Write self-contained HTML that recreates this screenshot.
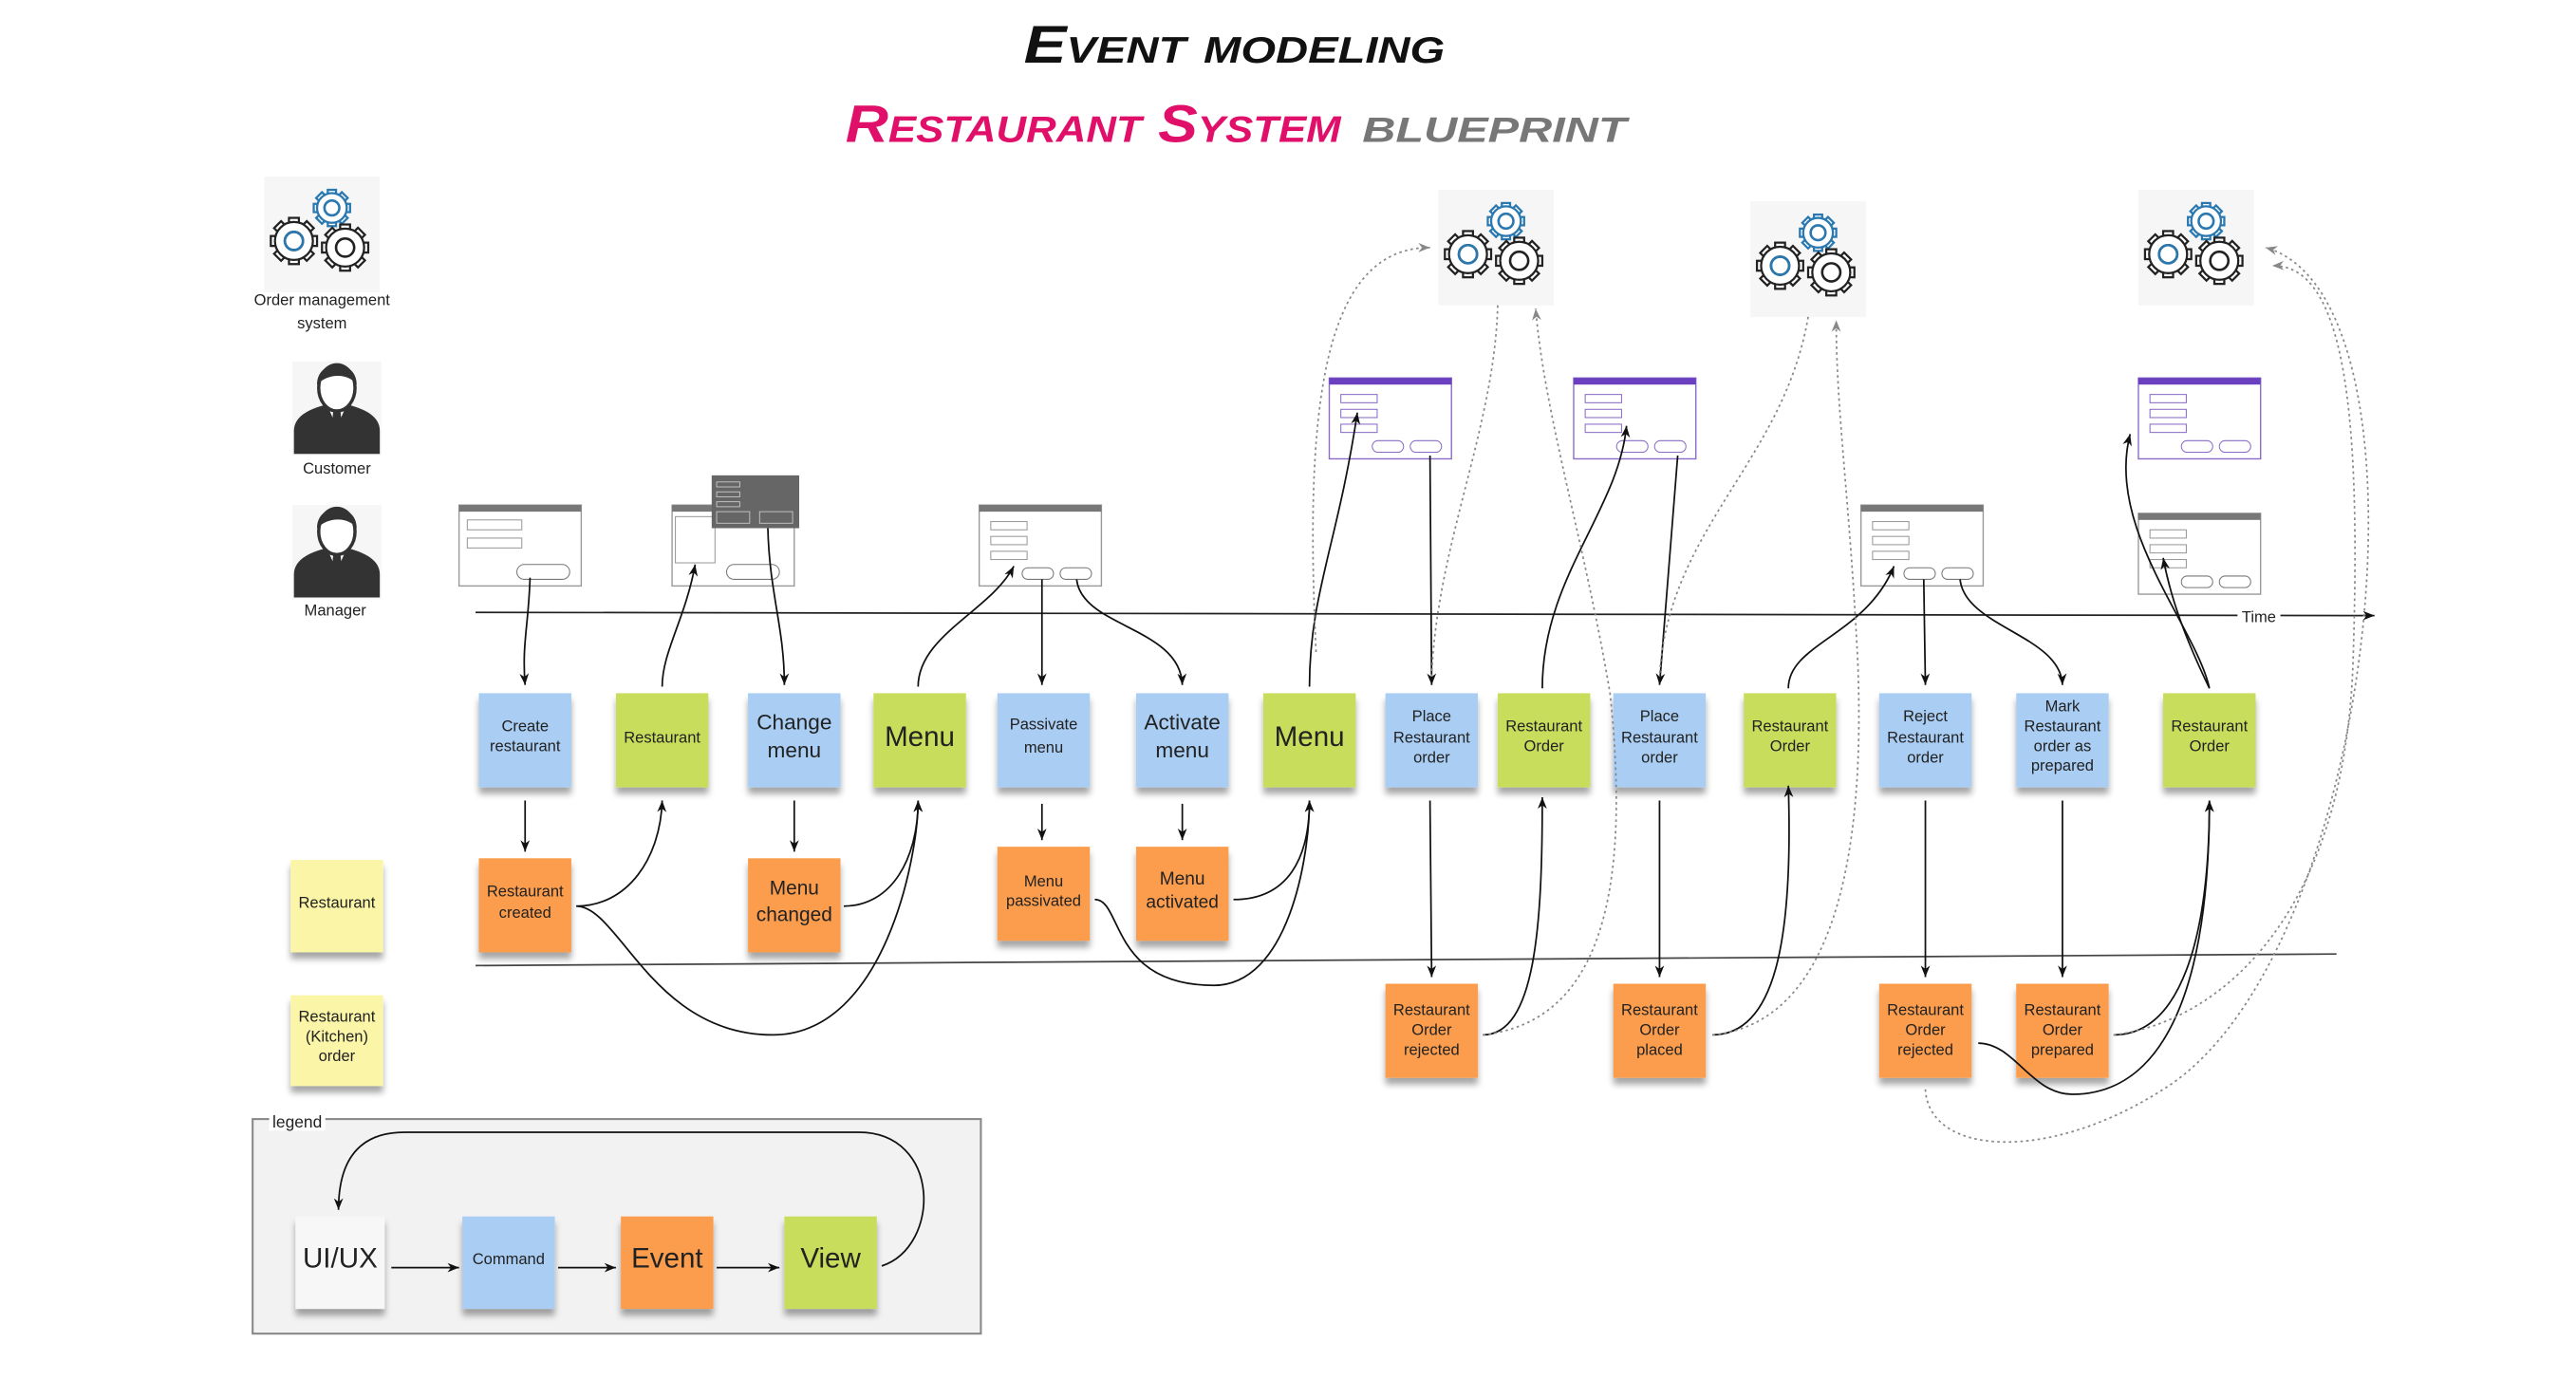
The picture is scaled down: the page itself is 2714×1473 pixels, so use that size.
<!DOCTYPE html>
<html><head><meta charset="utf-8"><style>
html,body{margin:0;padding:0;background:#fff;}
svg{display:block;font-family:"Liberation Sans",sans-serif;}
.t{font-size:9.5px;fill:#222;text-anchor:middle;}
.b{font-size:13px;fill:#222;text-anchor:middle;}
.m{font-size:17px;fill:#222;text-anchor:middle;}
.c{fill:none;stroke:#111;stroke-width:1;}
.d{fill:none;stroke:#888;stroke-width:1;stroke-dasharray:1.5 2;}
</style></head><body>
<svg width="2714" height="1473" viewBox="0 0 1560 847" preserveAspectRatio="none">
<defs>
<marker id="a" viewBox="0 0 10 10" refX="10" refY="5" markerWidth="7" markerHeight="9" orient="auto-start-reverse" markerUnits="userSpaceOnUse"><path d="M0,1 L10,5 L0,9 L3,5z" fill="#111"/></marker>
<marker id="g" viewBox="0 0 10 10" refX="10" refY="5" markerWidth="7" markerHeight="9" orient="auto" markerUnits="userSpaceOnUse"><path d="M0,1 L10,5 L0,9 L3,5z" fill="#888"/></marker>
<filter id="sh" x="-20%" y="-20%" width="140%" height="150%"><feDropShadow dx="0" dy="4" stdDeviation="2" flood-color="#000" flood-opacity="0.35"/></filter>
<g id="gear1">
<g fill="#fff" stroke="#222" stroke-width="1.3">
<rect x="-3" y="-14" width="6" height="28"/><rect x="-3" y="-14" width="6" height="28" transform="rotate(45)"/><rect x="-3" y="-14" width="6" height="28" transform="rotate(90)"/><rect x="-3" y="-14" width="6" height="28" transform="rotate(135)"/>
<circle r="11.5"/></g><circle r="5.5" fill="none" stroke="#222" stroke-width="1.5"/></g>
<g id="gear2">
<g fill="#fff" stroke="#2a78b0" stroke-width="1.3">
<rect x="-2.5" y="-11" width="5" height="22"/><rect x="-2.5" y="-11" width="5" height="22" transform="rotate(45)"/><rect x="-2.5" y="-11" width="5" height="22" transform="rotate(90)"/><rect x="-2.5" y="-11" width="5" height="22" transform="rotate(135)"/>
<circle r="9"/></g><circle r="4.5" fill="none" stroke="#2a78b0" stroke-width="1.5"/></g>
<g id="gears">
<rect x="-35" y="-33" width="70" height="70" fill="#f6f6f6"/>
<use href="#gear2" x="6" y="-14"/>
<use href="#gear1" x="-17" y="6"/>
<use href="#gear1" x="14" y="10"/>
<circle cx="-17" cy="6" r="5.5" fill="none" stroke="#2a78b0" stroke-width="1.5"/>
</g>
<g id="person">
<rect x="-27" y="-28" width="54" height="57" fill="#f6f6f6"/>
<path d="M-26,28 L-26,14 C-26,4 -14,0 -6,-2 L6,-2 C14,0 26,4 26,14 L26,28z" fill="#333"/>
<path d="M-6,-2 L0,12 L6,-2z" fill="#fff"/><path d="M-2,0 L2,0 L3,10 L0,14 L-3,10z" fill="#333"/>
<ellipse cx="0" cy="-12" rx="11" ry="14" fill="#fff" stroke="#333" stroke-width="2"/>
<path d="M-12,-14 C-12,-30 12,-30 12,-14 C8,-20 -4,-22 -12,-14z" fill="#333"/>
</g>
<g id="wf">
<rect x="0" y="0" width="74" height="49" fill="#fff" stroke="#999" stroke-width="0.8"/>
<rect x="0" y="0" width="74" height="4" fill="#777"/>
<rect x="7" y="10" width="22" height="5" fill="none" stroke="#999" stroke-width="0.6"/>
<rect x="7" y="19" width="22" height="5" fill="none" stroke="#999" stroke-width="0.6"/>
<rect x="7" y="28" width="22" height="5" fill="none" stroke="#999" stroke-width="0.6"/>
<rect x="26" y="38" width="19" height="7" rx="3.5" fill="none" stroke="#777" stroke-width="0.6"/>
<rect x="49" y="38" width="19" height="7" rx="3.5" fill="none" stroke="#777" stroke-width="0.6"/>
</g>
<g id="wfp">
<rect x="0" y="0" width="74" height="49" fill="#fff" stroke="#8a6cc8" stroke-width="0.8"/>
<rect x="0" y="0" width="74" height="4" fill="#6a3fc0"/>
<rect x="7" y="10" width="22" height="5" fill="none" stroke="#8a6cc8" stroke-width="0.6"/>
<rect x="7" y="19" width="22" height="5" fill="none" stroke="#8a6cc8" stroke-width="0.6"/>
<rect x="7" y="28" width="22" height="5" fill="none" stroke="#8a6cc8" stroke-width="0.6"/>
<rect x="26" y="38" width="19" height="7" rx="3.5" fill="none" stroke="#8a6cc8" stroke-width="0.6"/>
<rect x="49" y="38" width="19" height="7" rx="3.5" fill="none" stroke="#8a6cc8" stroke-width="0.6"/>
</g>
</defs>

<!-- titles -->
<text x="620" y="38" font-size="32" font-weight="bold" font-style="italic" fill="#111" style="font-variant:small-caps" textLength="255" lengthAdjust="spacingAndGlyphs">Event modeling</text>
<text x="512" y="86" font-size="32" font-weight="bold" font-style="italic" fill="#e0106a" style="font-variant:small-caps" textLength="300" lengthAdjust="spacingAndGlyphs">Restaurant System</text>
<text x="825" y="86" font-size="30" font-weight="bold" font-style="italic" fill="#777" style="font-variant:small-caps" textLength="160" lengthAdjust="spacingAndGlyphs">blueprint</text>

<!-- actors -->
<use href="#gears" x="195" y="140"/>
<text x="195" y="185" class="t">Order management</text>
<text x="195" y="199" class="t">system</text>
<use href="#person" x="204" y="247"/>
<text x="204" y="287" class="t">Customer</text>
<use href="#person" x="204" y="334"/>
<text x="203" y="373" class="t">Manager</text>

<use href="#gears" x="906" y="148"/>
<use href="#gears" x="1095" y="155"/>
<use href="#gears" x="1330" y="148"/>

<!-- wireframes -->
<g>
<rect x="278" y="306" width="74" height="49" fill="#fff" stroke="#999" stroke-width="0.8"/><rect x="278" y="306" width="74" height="4" fill="#777"/>
<rect x="283" y="315" width="33" height="6" fill="none" stroke="#999" stroke-width="0.6"/><rect x="283" y="326" width="33" height="6" fill="none" stroke="#999" stroke-width="0.6"/>
<rect x="313" y="342" width="32" height="9" rx="4.5" fill="none" stroke="#777" stroke-width="0.6"/>
<rect x="407" y="306" width="74" height="49" fill="#fff" stroke="#999" stroke-width="0.8"/><rect x="407" y="306" width="74" height="4" fill="#777"/>
<rect x="409" y="313" width="24" height="28" fill="none" stroke="#999" stroke-width="0.6"/>
<rect x="440" y="342" width="32" height="9" rx="4.5" fill="none" stroke="#777" stroke-width="0.6"/>
<rect x="431" y="288" width="53" height="32" fill="#666"/>
<rect x="434" y="292" width="14" height="3" fill="none" stroke="#ccc" stroke-width="0.5"/><rect x="434" y="298" width="14" height="3" fill="none" stroke="#ccc" stroke-width="0.5"/><rect x="434" y="304" width="14" height="3" fill="none" stroke="#ccc" stroke-width="0.5"/>
<rect x="434" y="310" width="20" height="7" fill="none" stroke="#ccc" stroke-width="0.5"/><rect x="460" y="310" width="20" height="7" fill="none" stroke="#ccc" stroke-width="0.5"/>
</g>
<use href="#wf" x="593" y="306"/>
<use href="#wfp" x="805" y="229"/>
<use href="#wfp" x="953" y="229"/>
<use href="#wf" x="1127" y="306"/>
<use href="#wfp" x="1295" y="229"/>
<use href="#wf" x="1295" y="311"/>

<!-- timelines -->
<line x1="288" y1="371" x2="1438" y2="373" stroke="#222" stroke-width="1" marker-end="url(#a)"/>
<rect x="1355" y="366" width="26" height="13" fill="#fff"/>
<text x="1368" y="377" class="t">Time</text>
<line x1="288" y1="585" x2="1415" y2="578" stroke="#444" stroke-width="1"/>

<!-- stickies -->
<g filter="url(#sh)">
<rect x="176" y="521" width="56" height="56" fill="#fbf5a8"/>
<rect x="176" y="603" width="56" height="55" fill="#fbf5a8"/>
<rect x="290" y="420" width="56" height="57" fill="#a9cdf3"/>
<rect x="373" y="420" width="56" height="57" fill="#c9dd5b"/>
<rect x="453" y="420" width="56" height="57" fill="#a9cdf3"/>
<rect x="529" y="420" width="56" height="57" fill="#c9dd5b"/>
<rect x="604" y="420" width="56" height="57" fill="#a9cdf3"/>
<rect x="688" y="420" width="56" height="57" fill="#a9cdf3"/>
<rect x="765" y="420" width="56" height="57" fill="#c9dd5b"/>
<rect x="839" y="420" width="56" height="57" fill="#a9cdf3"/>
<rect x="907" y="420" width="56" height="57" fill="#c9dd5b"/>
<rect x="977" y="420" width="56" height="57" fill="#a9cdf3"/>
<rect x="1056" y="420" width="56" height="57" fill="#c9dd5b"/>
<rect x="1138" y="420" width="56" height="57" fill="#a9cdf3"/>
<rect x="1221" y="420" width="56" height="57" fill="#a9cdf3"/>
<rect x="1310" y="420" width="56" height="57" fill="#c9dd5b"/>
<rect x="290" y="520" width="56" height="57" fill="#fb9d4d"/>
<rect x="453" y="520" width="56" height="57" fill="#fb9d4d"/>
<rect x="604" y="513" width="56" height="57" fill="#fb9d4d"/>
<rect x="688" y="513" width="56" height="57" fill="#fb9d4d"/>
<rect x="839" y="596" width="56" height="57" fill="#fb9d4d"/>
<rect x="977" y="596" width="56" height="57" fill="#fb9d4d"/>
<rect x="1138" y="596" width="56" height="57" fill="#fb9d4d"/>
<rect x="1221" y="596" width="56" height="57" fill="#fb9d4d"/>
</g>

<text x="204" y="550" class="t">Restaurant</text>
<text class="t" x="204"><tspan x="204" y="619">Restaurant</tspan><tspan x="204" y="631">(Kitchen)</tspan><tspan x="204" y="643">order</tspan></text>
<text class="t"><tspan x="318" y="443">Create</tspan><tspan x="318" y="455">restaurant</tspan></text>
<text class="t" x="401" y="450">Restaurant</text>
<text class="b"><tspan x="481" y="442">Change</tspan><tspan x="481" y="459">menu</tspan></text>
<text class="m" x="557" y="452">Menu</text>
<text class="t"><tspan x="632" y="442">Passivate</tspan><tspan x="632" y="456">menu</tspan></text>
<text class="b"><tspan x="716" y="442">Activate</tspan><tspan x="716" y="459">menu</tspan></text>
<text class="m" x="793" y="452">Menu</text>
<text class="t"><tspan x="867" y="437">Place</tspan><tspan x="867" y="450">Restaurant</tspan><tspan x="867" y="462">order</tspan></text>
<text class="t"><tspan x="935" y="443">Restaurant</tspan><tspan x="935" y="455">Order</tspan></text>
<text class="t"><tspan x="1005" y="437">Place</tspan><tspan x="1005" y="450">Restaurant</tspan><tspan x="1005" y="462">order</tspan></text>
<text class="t"><tspan x="1084" y="443">Restaurant</tspan><tspan x="1084" y="455">Order</tspan></text>
<text class="t"><tspan x="1166" y="437">Reject</tspan><tspan x="1166" y="450">Restaurant</tspan><tspan x="1166" y="462">order</tspan></text>
<text class="t"><tspan x="1249" y="431">Mark</tspan><tspan x="1249" y="443">Restaurant</tspan><tspan x="1249" y="455">order as</tspan><tspan x="1249" y="467">prepared</tspan></text>
<text class="t"><tspan x="1338" y="443">Restaurant</tspan><tspan x="1338" y="455">Order</tspan></text>
<text class="t"><tspan x="318" y="543">Restaurant</tspan><tspan x="318" y="556">created</tspan></text>
<text class="b" style="font-size:12px"><tspan x="481" y="542">Menu</tspan><tspan x="481" y="558">changed</tspan></text>
<text class="t"><tspan x="632" y="537">Menu</tspan><tspan x="632" y="549">passivated</tspan></text>
<text class="t" style="font-size:11px"><tspan x="716" y="536">Menu</tspan><tspan x="716" y="550">activated</tspan></text>
<text class="t"><tspan x="867" y="615">Restaurant</tspan><tspan x="867" y="627">Order</tspan><tspan x="867" y="639">rejected</tspan></text>
<text class="t"><tspan x="1005" y="615">Restaurant</tspan><tspan x="1005" y="627">Order</tspan><tspan x="1005" y="639">placed</tspan></text>
<text class="t"><tspan x="1166" y="615">Restaurant</tspan><tspan x="1166" y="627">Order</tspan><tspan x="1166" y="639">rejected</tspan></text>
<text class="t"><tspan x="1249" y="615">Restaurant</tspan><tspan x="1249" y="627">Order</tspan><tspan x="1249" y="639">prepared</tspan></text>

<!-- solid connectors -->
<g class="c" marker-end="url(#a)">
<path d="M321,350 C320,380 316,390 318,415"/>
<path d="M401,416 C401,395 415,375 421,342"/>
<path d="M465,320 C466,360 475,380 475,415"/>
<path d="M556,416 C556,385 600,370 614,343"/>
<path d="M631,351 L631,415"/>
<path d="M652,351 C655,380 715,380 716,415"/>
<path d="M793,416 C793,360 810,330 822,250"/>
<path d="M866,276 L867,415"/>
<path d="M934,417 C934,350 980,310 985,258"/>
<path d="M1016,276 L1005,415"/>
<path d="M1083,417 C1083,390 1130,385 1147,343"/>
<path d="M1165,351 L1166,415"/>
<path d="M1187,351 C1190,380 1248,385 1249,415"/>
<path d="M1338,417 C1330,380 1275,320 1290,263"/>
<path d="M1338,417 C1325,390 1315,365 1310,338"/>
<path d="M318,485 L318,516"/>
<path d="M349,549 C380,549 400,520 401,485"/>
<path d="M349,549 C375,549 395,627 468,627 C535,627 556,520 556,485"/>
<path d="M511,549 C540,549 556,520 556,485"/>
<path d="M481,485 L481,516"/>
<path d="M631,487 L631,509"/>
<path d="M716,487 L716,509"/>
<path d="M663,545 C680,545 672,597 735,597 C780,597 793,520 793,485"/>
<path d="M747,545 C780,545 793,520 793,485"/>
<path d="M866,485 L867,592"/>
<path d="M898,627 C930,627 934,560 934,483"/>
<path d="M1005,485 L1005,592"/>
<path d="M1037,627 C1075,627 1086,570 1083,476"/>
<path d="M1166,485 L1166,592"/>
<path d="M1249,485 L1249,592"/>
<path d="M1280,627 C1320,627 1338,570 1338,485"/>
<path d="M1198,632 C1220,632 1230,663 1255,663 C1300,663 1338,620 1338,485"/>
</g>

<!-- dashed connectors -->
<g class="d">
<path d="M797,395 C790,250 800,150 866,150" marker-end="url(#g)"/>
<path d="M907,185 C905,260 870,330 867,410"/>
<path d="M898,627 C960,620 990,560 975,420 C960,330 935,250 930,187" marker-end="url(#g)"/>
<path d="M1095,192 C1080,280 1010,320 1005,410"/>
<path d="M1037,627 C1110,620 1130,520 1125,400 C1120,300 1112,250 1112,194" marker-end="url(#g)"/>
<path d="M1166,660 C1168,700 1240,705 1310,660 C1440,580 1480,180 1372,150" marker-end="url(#g)"/>
<path d="M1280,627 C1340,620 1420,560 1425,400 C1430,250 1420,160 1376,161" marker-end="url(#g)"/>
</g>

<!-- legend -->
<rect x="153" y="678" width="441" height="130" fill="#f2f2f2" stroke="#888" stroke-width="1.2"/>
<rect x="163" y="673" width="34" height="12" fill="#fff"/>
<text x="180" y="683" class="t" style="font-size:10px">legend</text>
<g filter="url(#sh)">
<rect x="179" y="737" width="54" height="56" fill="#f7f7f7"/>
<rect x="280" y="737" width="56" height="56" fill="#a9cdf3"/>
<rect x="376" y="737" width="56" height="56" fill="#fb9d4d"/>
<rect x="475" y="737" width="56" height="56" fill="#c9dd5b"/>
</g>
<text class="m" x="206" y="768">UI/UX</text>
<text class="t" x="308" y="766">Command</text>
<text class="m" x="404" y="768">Event</text>
<text class="m" x="503" y="768">View</text>
<g class="c" marker-end="url(#a)">
<path d="M237,768 L278,768"/>
<path d="M338,768 L373,768"/>
<path d="M434,768 L472,768"/>
<path d="M534,767 C570,755 570,686 520,686 L245,686 C212,686 205,710 205,733"/>
</g>
</svg>
</body></html>
